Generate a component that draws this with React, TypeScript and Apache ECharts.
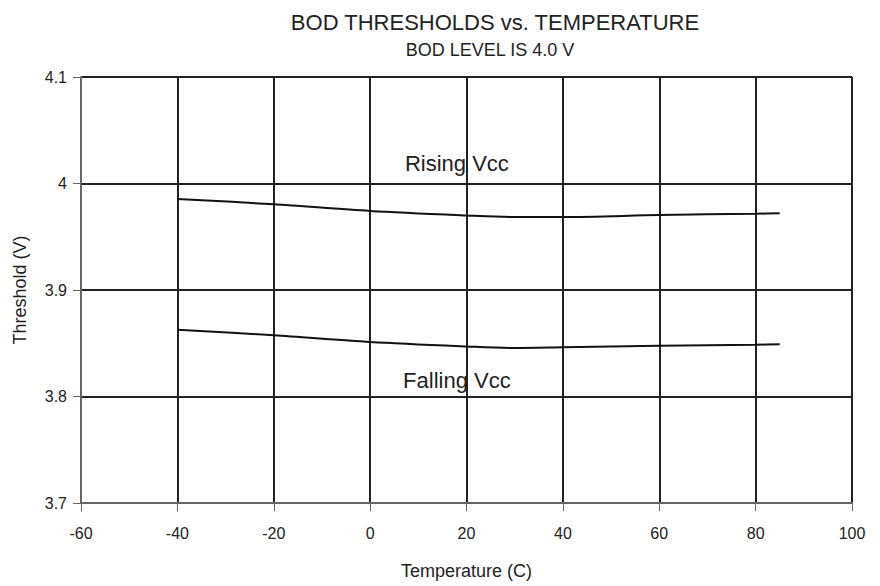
import React, { useEffect, useRef } from "react";
import * as echarts from "echarts";

const temps = [-40, -20, 0, 20, 30, 40, 60, 80, 85];
const rising = [3.9855, 3.9805, 3.9742, 3.970, 3.9685, 3.9685, 3.9704, 3.9716, 3.972];
const falling = [3.8627, 3.8575, 3.8512, 3.847, 3.8455, 3.8462, 3.8477, 3.8486, 3.849];
const risingLabel = { text: "Rising Vcc", x: 18, y: 4.019 };
const fallingLabel = { text: "Falling Vcc", x: 18, y: 3.8146 };

const FONT = "Liberation Sans, Arial, sans-serif";

export default function App() {
  const ref = useRef<HTMLDivElement>(null);
  useEffect(() => {
    const chart = echarts.init(ref.current!, null, { renderer: "svg" });
    const mk = (vals: number[], lbl: { text: string; x: number; y: number }, name: string) => ({
      type: "line",
      name,
      data: temps.map((t, i) => [t, vals[i]]),
      showSymbol: false,
      smooth: 0.3,
      lineStyle: { color: "#111", width: 2 },
      markPoint: {
        symbol: "circle",
        symbolSize: 0,
        data: [{ coord: [lbl.x, lbl.y] }],
        label: {
          show: true,
          position: "inside",
          formatter: lbl.text,
          fontFamily: FONT,
          fontSize: 22,
          color: "#222",
        },
      },
    });
    chart.setOption({
      animation: false,
      backgroundColor: "#fff",
      title: [
        {
          text: "BOD THRESHOLDS vs. TEMPERATURE",
          left: 490,
          top: 6,
          textAlign: "center",
          textStyle: { fontFamily: FONT, fontSize: 22, fontWeight: "normal", color: "#222" },
        },
        {
          text: "BOD LEVEL IS 4.0 V",
          left: 485,
          top: 36,
          textAlign: "center",
          textStyle: { fontFamily: FONT, fontSize: 18, fontWeight: "normal", color: "#222" },
        },
      ],
      grid: { left: 81, right: 28, top: 77, bottom: 83, containLabel: false },
      xAxis: {
        type: "value",
        min: -60,
        max: 100,
        interval: 20,
        name: "Temperature (C)",
        nameLocation: "middle",
        nameGap: 59,
        nameTextStyle: { fontFamily: FONT, fontSize: 18, color: "#222" },
        axisLine: { show: true, onZero: false, lineStyle: { color: "#666", width: 2 } },
        axisTick: { show: true, length: 8, lineStyle: { color: "#666" } },
        axisLabel: { fontFamily: FONT, fontSize: 16, color: "#222", margin: 22 },
        splitLine: { show: true, lineStyle: { color: "#222", width: 2 } },
      },
      yAxis: {
        type: "value",
        min: 3.7,
        max: 4.1,
        interval: 0.1,
        name: "Threshold (V)",
        nameLocation: "middle",
        nameGap: 52,
        nameTextStyle: { fontFamily: FONT, fontSize: 18, color: "#222" },
        axisLine: { show: true, onZero: false, lineStyle: { color: "#666", width: 2 } },
        axisTick: { show: true, length: 8, lineStyle: { color: "#666" } },
        axisLabel: {
          fontFamily: FONT,
          fontSize: 16,
          color: "#222",
          margin: 14,
          formatter: (v: number) => String(Math.round(v * 10) / 10),
        },
        splitLine: { show: true, lineStyle: { color: "#222", width: 2 } },
      },
      series: [mk(rising, risingLabel, "Rising Vcc"), mk(falling, fallingLabel, "Falling Vcc")],
    });
    return () => chart.dispose();
  }, []);
  return <div ref={ref} style={{ width: 880, height: 586, position: "absolute", left: 0, top: 0 }} />;
}
